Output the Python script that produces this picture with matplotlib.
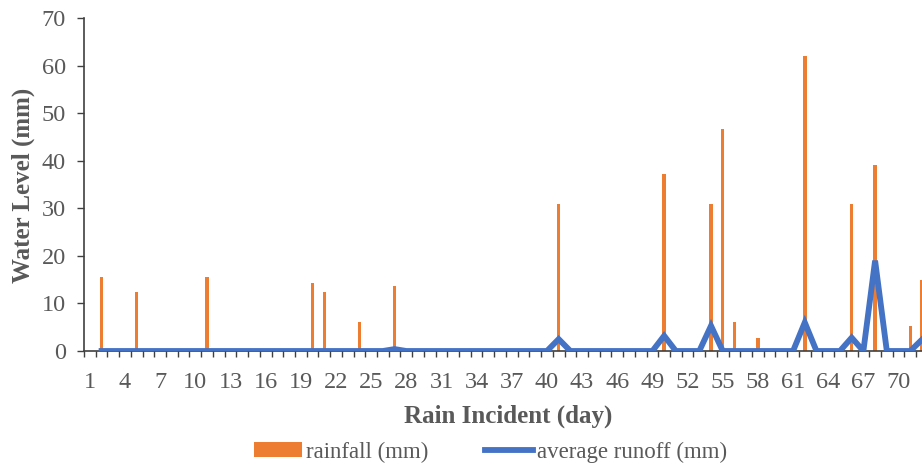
import numpy as np
import matplotlib.pyplot as plt
from matplotlib.patches import Patch
from matplotlib.lines import Line2D

plt.rcParams['font.family'] = ['Liberation Serif', 'DejaVu Serif']

# days 1..72 (chart is cropped at the right edge)
days = np.arange(1, 73)

# rainfall (mm) on days with rain, everything else 0
rain_days = [2, 5, 11, 20, 21, 24, 27, 33, 41, 44, 46, 47, 50, 54, 55, 56, 58, 59, 62, 66, 68, 71, 72]
rain_vals = [15.5, 12.4, 15.5, 14.3, 12.4, 6.2, 13.7, 0.3, 31.0, 0.3, 0.3, 0.3, 37.2, 31.0, 46.6, 6.2, 2.8, 0.5, 62.1, 31.0, 39.1, 5.3, 15.0]

# average runoff (mm), non-zero days only; series starts at day 2
runoff_days = [27, 41, 50, 54, 62, 66, 68, 72]
runoff_vals = [0.4, 2.5, 3.2, 5.3, 6.0, 2.8, 19.0, 2.4]

rainfall = np.zeros(len(days))
for d, v in zip(rain_days, rain_vals):
    rainfall[d - 1] = v
runoff = np.zeros(len(days))
for d, v in zip(runoff_days, runoff_vals):
    runoff[d - 1] = v
runoff[0] = np.nan

orange = '#ED7D31'
blue = '#4472C4'
grey = '#595959'

fig = plt.figure(figsize=(9.22, 4.67), dpi=100)
axw = (72 * 11.72) / 922
ax = fig.add_axes([84 / 922, 116 / 467, axw, 333 / 467])

ax.bar(days, rainfall, width=0.3, color=orange, zorder=2)
ax.plot(days, runoff, color=blue, lw=4.2, solid_joinstyle='miter', zorder=3)

ax.set_xlim(0.5, 72.5)
ax.set_ylim(0, 70)
ax.set_yticks(range(0, 71, 10))
ax.set_xticks(np.arange(1, 73, 3))
ax.set_xticks(np.arange(0.5, 73, 1), minor=True)
ax.tick_params(axis='x', which='major', length=0, pad=15, labelsize=17.5, labelcolor=grey)
ax.tick_params(axis='x', which='minor', length=4, width=1, color='#404040', direction='out')
ax.tick_params(axis='y', length=5, width=1, color='#404040', labelsize=17.5, labelcolor=grey, pad=8)

for s in ['top', 'right']:
    ax.spines[s].set_visible(False)
for s in ['left', 'bottom']:
    ax.spines[s].set_color('#404040')
    ax.spines[s].set_linewidth(1.2)

ax.set_xlabel('Rain Incident (day)', fontsize=18, fontweight='bold', color=grey)
ax.set_ylabel('Water Level (mm)', fontsize=18, fontweight='bold', color=grey)
ax.xaxis.set_label_coords((508 / 922 - 84 / 922) / axw, -0.16)
ax.yaxis.set_label_coords(-(84 - 35) / (axw * 922), (351 - 185) / 333)

handles = [Patch(facecolor=orange, edgecolor='none', label='rainfall (mm)'),
           Line2D([0], [0], color=blue, lw=4.2, label='average runoff (mm)')]
fig.legend(handles=handles, loc='center', bbox_to_anchor=(490.5 / 922, 1 - 452 / 467), ncol=2,
           frameon=False, fontsize=16.5, handlelength=2.1, handletextpad=0.15,
           columnspacing=2.5, labelcolor=grey, handleheight=0.6, borderpad=0)

fig.savefig('out.png', dpi=100)
